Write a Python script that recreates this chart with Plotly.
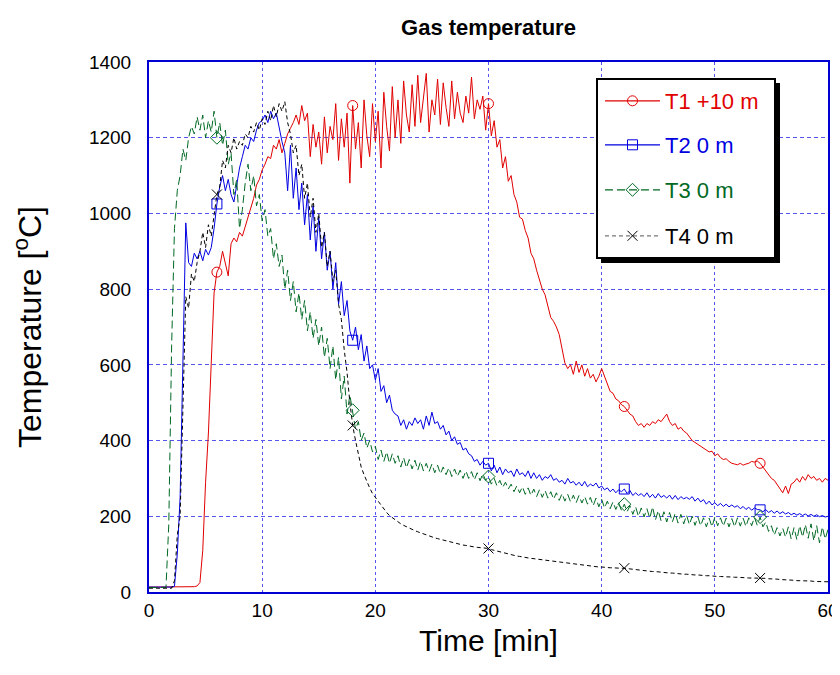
import numpy as np
import plotly.graph_objects as go

# time axis: one reading every 0.25 min, 0..60 min (241 samples)
time_min = np.linspace(0, 60, 241)

# each row = 2 minutes (8 samples at 0.25 min)
T1 = [
    13, 13, 13, 13, 13, 13, 13, 13,
    13, 13, 13, 13, 13, 13, 13, 13,
    14, 16, 25, 110, 290, 420, 600, 790,
    845, 860, 900, 870, 835, 920, 935, 925,
    950, 940, 965, 990, 1020, 1040, 1075, 1090,
    1115, 1130, 1150, 1145, 1180, 1170, 1195, 1160,
    1185, 1210, 1225, 1240, 1260, 1235, 1285, 1245,
    1265, 1150, 1235, 1175, 1215, 1130, 1255, 1160,
    1230, 1195, 1290, 1140, 1250, 1175, 1265, 1080,
    1285, 1170, 1240, 1120, 1300, 1205, 1150, 1290,
    1190, 1270, 1120, 1320, 1230, 1165, 1335, 1200,
    1300, 1185, 1350, 1260, 1215, 1340, 1230, 1365,
    1240, 1310, 1370, 1215, 1300, 1260, 1355, 1235,
    1345, 1280, 1230, 1350, 1250, 1320, 1265, 1240,
    1310, 1265, 1360, 1250, 1300, 1275, 1310, 1220,
    1290, 1205, 1245, 1175, 1195, 1120, 1150, 1085,
    1100, 1050, 1030, 990, 985, 955, 935, 895,
    880, 850, 825, 800, 785, 755, 725, 715,
    700, 680, 640, 605, 590, 600, 575, 610,
    580, 600, 570, 590, 565, 575, 555, 570,
    590, 570, 545, 530, 525, 510, 505, 495,
    490, 480, 470, 465, 450, 440, 445, 435,
    445, 440, 450, 445, 455, 450, 460, 470,
    450, 440, 445, 430, 435, 425, 420, 410,
    400, 395, 390, 385, 380, 375, 370, 372,
    360, 365, 355, 350, 352, 345, 340, 338,
    336, 340, 335, 338, 340, 345, 343, 346,
    340, 330, 320, 310, 300, 295, 285, 275,
    262, 280, 260, 285, 290, 300, 290, 305,
    295, 310, 300, 305, 295, 300, 290, 300,
    295,
]

T2 = [
    13, 13, 13, 13, 13, 13, 13, 13,
    13, 15, 100, 250, 600, 975, 870, 860,
    895, 880, 900, 875, 905, 890, 910, 960,
    1025, 1070, 1100, 1060, 1090, 1050, 1030, 1080,
    1120, 1150, 1180, 1170, 1200, 1190, 1220, 1240,
    1245, 1260, 1240, 1270, 1250, 1265, 1225, 1190,
    1160, 1060, 1180, 1040, 1120, 1010, 1080, 970,
    1050, 930, 1020, 900, 990, 880, 950, 850,
    900, 800, 870, 760, 820, 730, 770, 690,
    665, 700, 640, 680, 610, 650, 590, 600,
    560, 590, 530, 545, 500, 520, 480, 470,
    465, 440, 455, 430, 450, 440, 460, 445,
    455, 430, 465, 440, 475, 445, 450, 430,
    440, 415, 425, 400, 410, 390, 395, 375,
    380, 365, 360, 345, 350, 335, 345, 335,
    340, 320, 335, 315, 330, 310, 325, 315,
    320, 305, 325, 310, 315, 305, 320, 300,
    315, 300, 310, 295, 305, 300, 310, 295,
    300, 290, 295, 285, 300, 288, 292, 282,
    290, 280, 292, 278, 285, 280, 288, 275,
    280, 270, 275, 265, 272, 262, 270, 265,
    272, 260, 268, 255, 262, 255, 260, 252,
    262, 250, 258, 248, 260, 250, 255, 248,
    256, 245, 255, 244, 252, 246, 250, 245,
    252, 240, 248, 238, 244, 232, 240, 230,
    236, 228, 234, 226, 232, 225, 230, 224,
    228, 220, 226, 218, 224, 216, 222, 218,
    217, 212, 218, 210, 215, 208, 214, 207,
    212, 206, 210, 204, 208, 203, 207, 202,
    206, 201, 205, 200, 204, 199, 202, 198,
    200,
]

T3 = [
    12, 12, 12, 12, 12, 12, 12, 180,
    650, 960, 1060, 1100, 1170, 1140, 1200, 1230,
    1210, 1255, 1220, 1260, 1200, 1245, 1215, 1270,
    1200, 1240, 1180, 1220, 1130, 1160, 1050, 1090,
    960, 1010, 1080, 1130, 1060, 1100, 1020, 1050,
    980, 1010, 940, 960, 880, 920, 860, 890,
    800, 850, 770, 820, 740, 790, 720, 770,
    690, 740, 670, 720, 650, 700, 620, 670,
    590, 650, 560, 620, 510, 570, 470, 520,
    480, 430, 450, 400, 420, 380, 400, 370,
    385, 350, 375, 345, 370, 340, 365, 340,
    360, 330, 355, 328, 350, 325, 348, 322,
    345, 320, 340, 318, 338, 315, 335, 312,
    330, 310, 328, 305, 325, 305, 322, 300,
    320, 300, 318, 296, 315, 294, 312, 295,
    305, 285, 300, 280, 295, 276, 290, 272,
    285, 265, 280, 262, 278, 258, 275, 255,
    272, 252, 270, 250, 268, 248, 265, 245,
    262, 242, 260, 240, 258, 238, 256, 236,
    255, 235, 252, 232, 250, 228, 248, 225,
    245, 222, 240, 220, 238, 218, 236, 215,
    232, 212, 228, 205, 225, 200, 222, 198,
    220, 195, 225, 190, 215, 188, 212, 185,
    210, 185, 208, 182, 205, 180, 203, 178,
    200, 176, 198, 175, 196, 172, 195, 172,
    198, 175, 196, 174, 195, 172, 194, 172,
    196, 174, 195, 173, 196, 175, 197, 176,
    198, 172, 185, 160, 175, 150, 170, 148,
    168, 145, 172, 140, 170, 138, 175, 145,
    178, 142, 180, 135, 175, 130, 172, 140,
    165,
]

T4 = [
    10, 10, 10, 10, 10, 10, 10, 10,
    10, 30, 150, 200, 480, 780, 750, 840,
    820, 870, 900, 950, 910, 970, 940, 990,
    1050, 1070, 1140, 1120, 1180, 1160, 1200, 1170,
    1190, 1180, 1210, 1200, 1230, 1215, 1240, 1220,
    1250, 1235, 1270, 1245, 1285, 1255, 1290, 1270,
    1295, 1240, 1210, 1160, 1180, 1100, 1130, 1040,
    1080, 990, 1040, 950, 1000, 910, 950, 860,
    900, 820, 850, 760, 720, 640, 580, 500,
    440, 400, 360, 330, 310, 290, 275, 260,
    250, 238, 228, 218, 210, 202, 196, 190,
    185, 180, 176, 172, 168, 165, 162, 159,
    156, 153, 150, 148, 146, 143, 141, 139,
    137, 135, 133, 131, 129, 127, 126, 124,
    123, 121, 120, 119, 118, 117, 116, 115,
    115, 112, 110, 108, 106, 104, 102, 100,
    98, 97, 95, 94, 92, 91, 90, 89,
    88, 87, 86, 85, 84, 83, 82, 81,
    80, 79, 78, 77, 76, 75, 74, 73,
    72, 71, 70, 69, 68, 68, 67, 66,
    66, 65, 65, 64, 64, 63, 63, 63,
    63, 62, 61, 60, 59, 58, 57, 56,
    56, 55, 54, 54, 53, 52, 52, 51,
    50, 50, 49, 48, 48, 47, 47, 46,
    46, 45, 45, 44, 44, 43, 43, 42,
    42, 41, 41, 40, 40, 40, 39, 39,
    39, 38, 38, 38, 37, 37, 37, 37,
    37, 36, 36, 35, 35, 34, 34, 33,
    33, 32, 32, 31, 31, 30, 30, 30,
    29, 29, 29, 28, 28, 28, 27, 27,
    27,
]

marker_times = [6, 18, 30, 42, 54]
series_names = ["T1 +10 m", "T2 0 m", "T3 0 m", "T4 0 m"]
x_ticks = [0, 10, 20, 30, 40, 50, 60]
y_ticks = [0, 200, 400, 600, 800, 1000, 1200, 1400]

styles = [
    dict(color="rgb(225,0,0)", dash="solid", symbol="circle-open"),
    dict(color="rgb(0,0,225)", dash="solid", symbol="square-open"),
    dict(color="rgb(0,105,35)", dash="8px,4px", symbol="diamond-open"),
    dict(color="rgb(0,0,0)", dash="4px,3px", symbol="x-thin-open"),
]

FONT = "Liberation Sans, Arial, sans-serif"
fig = go.Figure()

for name, vals, st in zip(series_names, [T1, T2, T3, T4], styles):
    fig.add_trace(go.Scatter(
        x=time_min, y=vals, mode="lines", showlegend=False,
        line=dict(color=st["color"], width=1, dash=st["dash"]),
        hoverinfo="skip"))
    idx = [int(round(m * 4)) for m in marker_times]
    fig.add_trace(go.Scatter(
        x=[time_min[i] for i in idx], y=[vals[i] for i in idx],
        mode="markers", showlegend=False,
        marker=dict(symbol=st["symbol"], size=10, color=st["color"],
                    line=dict(color=st["color"], width=1))))

# page offset: the browser's default 8px body margin
OFF = 8
# plot area, in screen pixels
L, R, T, B = 149, 828, 62, 592
def px(x): return (x - L) / (R - L)
def py(y): return (B - y) / (B - T)

legend_ids = ["legend", "legend2", "legend3", "legend4"]
legend_centers = [101, 145, 190, 236]

# legend entries (one small legend per entry, stacked inside the drawn box)
for k, (name, st) in enumerate(zip(series_names, styles)):
    lcol = st["color"] if k < 3 else "rgb(120,120,120)"
    fig.add_trace(go.Scatter(
        x=[None], y=[None], mode="lines+markers",
        name=f"<span style='color:{st['color']}'>{name}</span>",
        legend=legend_ids[k],
        line=dict(color=lcol, width=1.2, dash=st["dash"]),
        marker=dict(symbol=st["symbol"], size=10, color=st["color"],
                    line=dict(color=st["color"], width=1))))

fig.add_shape(type="rect", xref="paper", yref="paper",
              x0=px(601), x1=px(780), y0=py(263), y1=py(83),
              fillcolor="black", line=dict(width=0), layer="above")
fig.add_shape(type="rect", xref="paper", yref="paper",
              x0=px(597), x1=px(775), y0=py(258), y1=py(79),
              fillcolor="white", line=dict(color="black", width=2), layer="above")

legend_layout = {}
for k, lid in enumerate(legend_ids):
    legend_layout[lid] = dict(
        x=px(600), y=py(legend_centers[k]), xanchor="left", yanchor="middle",
        bgcolor="rgba(0,0,0,0)", borderwidth=0,
        font=dict(family=FONT, size=22), itemwidth=55)

grid_col = "rgb(85,85,240)"
fig.update_layout(
    width=840 - OFF, height=675 - OFF,
    margin=dict(l=L - OFF, r=840 - R, t=T - OFF, b=675 - B, autoexpand=False),
    paper_bgcolor="white", plot_bgcolor="white",
    font=dict(family=FONT, color="black", size=19),
    title=dict(text="<b>Gas temperature</b>", x=0.5, xref="paper",
               y=1 - (27 - OFF) / (675 - OFF), yref="container", yanchor="middle",
               font=dict(family=FONT, size=22, color="black")),
    xaxis=dict(range=[0, 60], tickvals=x_ticks, ticktext=[str(v) for v in x_ticks],
               showgrid=True, gridcolor=grid_col, griddash="3px,3px", gridwidth=1,
               showline=True, linecolor="rgb(0,0,210)", linewidth=2, mirror=True,
               zeroline=False, ticks="", tickfont=dict(size=19), automargin=False,
               title=dict(text="Time [min]", font=dict(size=30), standoff=10)),
    yaxis=dict(range=[0, 1400], tickvals=y_ticks, ticktext=[str(v) for v in y_ticks],
               showgrid=True, gridcolor=grid_col, griddash="4px,3px", gridwidth=1.3,
               showline=True, linecolor="rgb(0,0,210)", linewidth=2, mirror=True,
               zeroline=False, ticks="", tickfont=dict(size=19), ticklabelstandoff=12,
               automargin=False,
               title=dict(text="Temperature [<sup>o</sup>C]", font=dict(size=32), standoff=40)),
    **legend_layout,
)

fig.write_html("out.html")
